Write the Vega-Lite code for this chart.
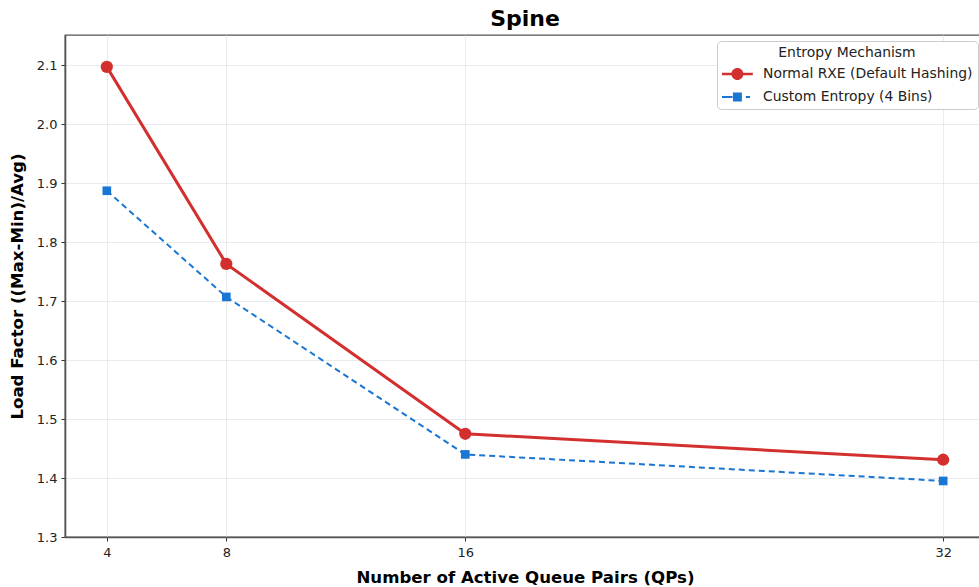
{
  "$schema": "https://vega.github.io/schema/vega-lite/v6.json",
  "width": 920,
  "height": 502,
  "autosize": {"type": "none"},
  "padding": {"left": 65, "top": 35, "right": 0, "bottom": 50},
  "background": "white",
  "config": {
    "font": "DejaVu Sans",
    "view": {"stroke": "#555555", "strokeWidth": 1.3},
    "axis": {
      "gridColor": "#e3e6ea",
      "gridWidth": 0.8,
      "domainColor": "#555555",
      "domainWidth": 1.6,
      "tickColor": "#333333",
      "tickSize": 4,
      "labelFontSize": 13,
      "labelColor": "#222222",
      "titleFontSize": 16.6,
      "titleFontWeight": "bold",
      "titleColor": "#000000"
    }
  },
  "title": {"text": "Spine", "fontSize": 22, "fontWeight": "bold", "anchor": "middle", "offset": 4, "color": "#000000"},
  "data": {
    "values": [
      {"qp": 4, "series": "Normal RXE (Default Hashing)", "value": 2.097},
      {"qp": 8, "series": "Normal RXE (Default Hashing)", "value": 1.763},
      {"qp": 16, "series": "Normal RXE (Default Hashing)", "value": 1.475},
      {"qp": 32, "series": "Normal RXE (Default Hashing)", "value": 1.431},
      {"qp": 4, "series": "Custom Entropy (4 Bins)", "value": 1.887},
      {"qp": 8, "series": "Custom Entropy (4 Bins)", "value": 1.707},
      {"qp": 16, "series": "Custom Entropy (4 Bins)", "value": 1.440},
      {"qp": 32, "series": "Custom Entropy (4 Bins)", "value": 1.395}
    ]
  },
  "encoding": {
    "x": {
      "field": "qp", "type": "quantitative",
      "scale": {"domain": [2.6, 33.4], "nice": false, "zero": false},
      "axis": {"values": [4, 8, 16, 32], "title": "Number of Active Queue Pairs (QPs)", "titlePadding": 10, "labelPadding": 5}
    },
    "y": {
      "field": "value", "type": "quantitative",
      "scale": {"domain": [1.3, 2.151], "nice": false, "zero": false},
      "axis": {"values": [1.3, 1.4, 1.5, 1.6, 1.7, 1.8, 1.9, 2.0, 2.1], "format": ".1f", "title": "Load Factor ((Max-Min)/Avg)", "titlePadding": 11, "labelPadding": 4}
    },
    "color": {
      "field": "series", "type": "nominal",
      "scale": {"domain": ["Normal RXE (Default Hashing)", "Custom Entropy (4 Bins)"], "range": ["#d32f2f", "#1976d2"]},
      "legend": {
        "title": "Entropy Mechanism",
        "orient": "none",
        "legendX": 652,
        "legendY": 6,
        "titleFontWeight": "normal",
        "titleFontSize": 13.9,
        "titleColor": "#222222",
        "titleAnchor": "middle",
        "titlePadding": 7,
        "labelFontSize": 13.9,
        "labelColor": "#222222",
        "labelLimit": 400,
        "symbolSize": 196,
        "symbolStrokeWidth": 0,
        "symbolOpacity": 1,
        "rowPadding": 9,
        "labelOffset": 27,
        "padding": 5,
        "fillColor": "white",
        "strokeColor": "#cccccc",
        "cornerRadius": 4,
        "encode": {
          "symbols": {
            "update": {
              "shape": {"signal": "datum.value === 'Normal RXE (Default Hashing)' ? 'M-1,-0.18H3.4V0.18H-1Z M0.34,0A0.86,0.86 0 1,1 2.06,0A0.86,0.86 0 1,1 0.34,0Z' : 'M-1,-0.14H0.5V0.14H-1Z M0.56,-0.64H1.84V0.64H0.56Z M2.4,-0.14H3.0V0.14H2.4Z'"},
              "fill": {"signal": "datum.value === 'Normal RXE (Default Hashing)' ? '#d32f2f' : '#1976d2'"},
              "fillOpacity": {"value": 1},
              "strokeWidth": {"value": 0}
            }
          }
        }
      }
    }
  },
  "layer": [
    {
      "mark": {"type": "line", "strokeWidth": 3},
      "transform": [{"filter": "datum.series === 'Normal RXE (Default Hashing)'"}]
    },
    {
      "mark": {"type": "line", "strokeWidth": 2, "strokeDash": [6, 4]},
      "transform": [{"filter": "datum.series === 'Custom Entropy (4 Bins)'"}]
    },
    {
      "mark": {"type": "point", "shape": "circle", "filled": true, "size": 150, "opacity": 1},
      "transform": [{"filter": "datum.series === 'Normal RXE (Default Hashing)'"}]
    },
    {
      "mark": {"type": "point", "shape": "square", "filled": true, "size": 75, "opacity": 1},
      "transform": [{"filter": "datum.series === 'Custom Entropy (4 Bins)'"}]
    }
  ]
}
